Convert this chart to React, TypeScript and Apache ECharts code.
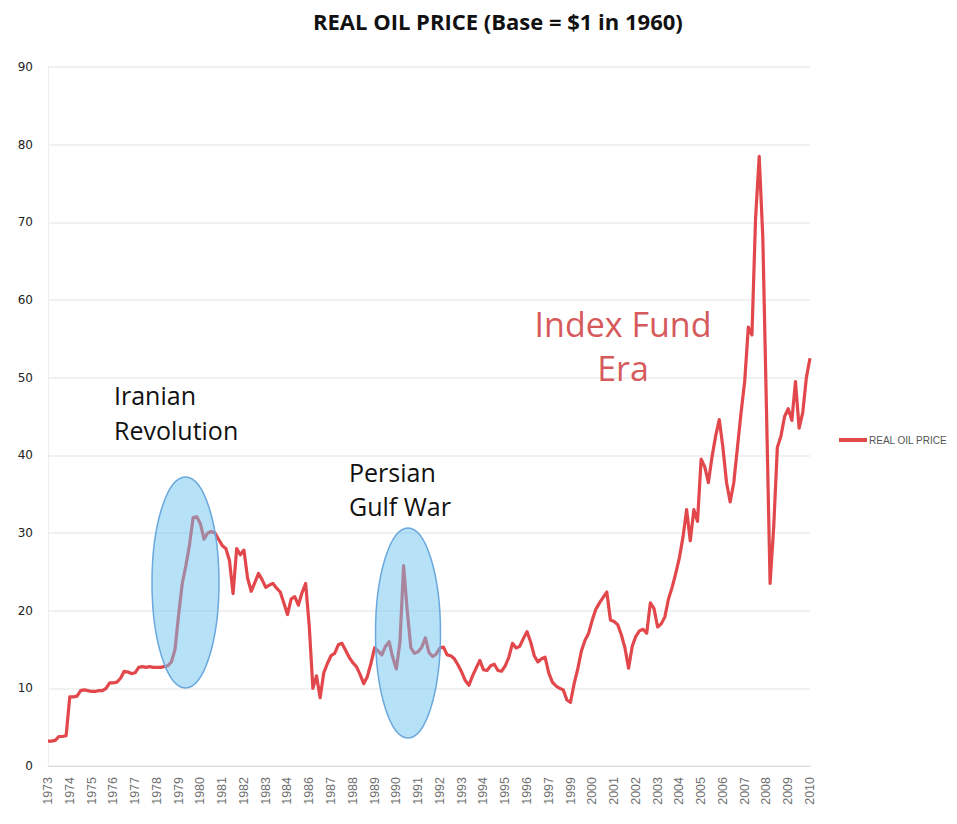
import React, { useEffect, useRef } from "react";
import * as echarts from "echarts";

const TITLE = "REAL OIL PRICE (Base = $1 in 1960)";
const SERIES_NAME = "REAL OIL PRICE";

// Tick labels shown on the x axis (as in the reference, 1985 and 1998 are skipped)
const yearLabels = [
  "1973", "1974", "1975", "1976", "1977", "1978", "1979", "1980", "1981", "1982",
  "1983", "1984", "1986", "1987", "1988", "1989", "1990", "1991", "1992", "1993",
  "1994", "1995", "1996", "1997", "1999", "2000", "2001", "2002", "2003", "2004",
  "2005", "2006", "2007", "2008", "2009", "2010",
];

// Points between consecutive tick labels
const STEPS_PER_LABEL = 6;

// Real oil price readings (6 readings per tick-label interval)
const priceValues = [
  3.2, 3.2, 3.3, 3.8, 3.8, 3.9,
  8.9, 8.9, 9.0, 9.7, 9.8, 9.7,
  9.6, 9.6, 9.7, 9.7, 10.0, 10.7,
  10.7, 10.8, 11.3, 12.2, 12.1, 11.9,
  12.0, 12.7, 12.8, 12.7, 12.8, 12.7,
  12.7, 12.7, 12.8, 12.9, 13.4, 15.0,
  19.5, 23.5, 25.8, 28.5, 32.0, 32.1,
  31.2, 29.2, 30.0, 30.2, 30.0, 29.2,
  28.4, 28.0, 26.5, 22.2, 28.0, 27.2,
  27.8, 24.2, 22.5, 23.6, 24.8, 24.0,
  23.0, 23.3, 23.5, 22.9, 22.4, 21.0,
  19.5, 21.5, 21.8, 20.7, 22.3, 23.5,
  18.0, 10.0, 11.6, 8.8, 12.0, 13.2,
  14.2, 14.5, 15.6, 15.8, 14.9, 14.0,
  13.3, 12.8, 11.8, 10.6, 11.5, 13.2,
  15.2, 14.8, 14.3, 15.4, 16.0, 14.0,
  12.5, 16.0, 25.8, 20.0, 15.2, 14.5,
  14.7, 15.3, 16.5, 14.6, 14.1, 14.4,
  15.2, 15.3, 14.3, 14.2, 13.8, 13.0,
  12.1, 11.0, 10.4, 11.6, 12.6, 13.6,
  12.4, 12.3, 12.9, 13.1, 12.3, 12.2,
  12.9, 14.0, 15.8, 15.2, 15.4, 16.4,
  17.3, 16.0, 14.2, 13.4, 13.8, 14.0,
  12.0, 10.8, 10.3, 10.0, 9.8, 8.5,
  8.2, 10.6, 12.5, 14.8, 16.2, 17.1,
  18.8, 20.2, 21.0, 21.7, 22.4, 18.8,
  18.6, 18.2, 16.9, 15.2, 12.6, 15.4,
  16.7, 17.4, 17.6, 17.1, 21.0, 20.3,
  17.9, 18.3, 19.2, 21.5, 23.0, 24.8,
  26.8, 29.5, 33.0, 29.0, 33.0, 31.5,
  39.5, 38.5, 36.5, 39.8, 42.5, 44.6,
  41.0, 36.5, 34.0, 36.5, 41.0, 45.5,
  49.5, 56.5, 55.5, 70.5, 78.5, 68.0,
  46.0, 23.5, 30.8, 41.0, 42.5, 45.0,
  46.0, 44.5, 49.5, 43.5, 45.5, 50.0,
  52.5,
];

// Y axis ticks
const Y_MIN = 0;
const Y_MAX = 90;
const Y_INTERVAL = 10;

// Annotations
const annoIranian = ["Iranian", "Revolution"];
const annoGulf = ["Persian", "Gulf War"];
const annoIndex = ["Index Fund", "Era"];

function buildCategories(): string[] {
  const cats: string[] = [];
  for (let j = 0; j < yearLabels.length - 1; j++) {
    for (let s = 0; s < STEPS_PER_LABEL; s++) {
      cats.push(s === 0 ? yearLabels[j] : `${yearLabels[j]}-${s}`);
    }
  }
  cats.push(yearLabels[yearLabels.length - 1]);
  return cats;
}

export default function App() {
  const ref = useRef<HTMLDivElement>(null);

  useEffect(() => {
    if (!ref.current) return;
    const chart = echarts.init(ref.current, undefined, { renderer: "svg" });
    const categories = buildCategories();
    const font = "'Open Sans', 'Noto Sans', sans-serif";

    chart.setOption({
      animation: false,
      backgroundColor: "#ffffff",
      title: {
        text: TITLE,
        left: 308,
        top: 5,
        textStyle: {
          fontFamily: font,
          fontWeight: "bold",
          fontSize: 22,
          color: "#111111",
        },
      },
      legend: {
        data: [SERIES_NAME],
        orient: "vertical",
        left: 834,
        top: 430,
        icon: "rect",
        itemWidth: 28,
        itemHeight: 4,
        itemGap: 4,
        textStyle: {
          fontFamily: "'Liberation Sans', sans-serif",
          fontSize: 10,
          color: "#555555",
          padding: [0, 0, 0, -3],
        },
      },
      grid: {
        left: 48,
        right: 147,
        top: 67,
        bottom: 58,
        containLabel: false,
      },
      xAxis: {
        type: "category",
        data: categories,
        boundaryGap: false,
        axisLine: { show: true, lineStyle: { color: "#dddddd", width: 1 } },
        axisTick: { show: false },
        axisLabel: {
          interval: STEPS_PER_LABEL - 1,
          rotate: 90,
          margin: 11,
          fontSize: 12.5,
          color: "#707070",
          fontFamily: "'Liberation Sans', sans-serif",
        },
        splitLine: { show: false },
      },
      yAxis: {
        type: "value",
        min: Y_MIN,
        max: Y_MAX,
        interval: Y_INTERVAL,
        axisLine: { show: true, lineStyle: { color: "#eeeeee" } },
        axisTick: { show: false },
        axisLabel: {
          margin: 15,
          fontSize: 12,
          color: "#222222",
          fontFamily: "'DejaVu Sans', sans-serif",
        },
        splitLine: { show: true, lineStyle: { color: "#ececec", width: 1.5 } },
      },
      series: [
        {
          name: SERIES_NAME,
          type: "line",
          data: priceValues,
          showSymbol: false,
          symbol: "none",
          lineStyle: { color: "#e2474b", width: 3.2, join: "round" },
          itemStyle: { color: "#e2474b" },
          z: 2,
        },
      ],
      graphic: [
        {
          type: "ellipse",
          z: 100,
          shape: { cx: 185.5, cy: 582.5, rx: 33.5, ry: 105.5 },
          style: { fill: "rgba(110,195,240,0.5)", stroke: "#6aa8dd", lineWidth: 1.5 },
        },
        {
          type: "ellipse",
          z: 100,
          shape: { cx: 408, cy: 633, rx: 32.5, ry: 105 },
          style: { fill: "rgba(110,195,240,0.5)", stroke: "#6aa8dd", lineWidth: 1.5 },
        },
        {
          type: "text",
          z: 101,
          x: 114,
          y: 377,
          style: {
            text: annoIranian.join("\n"),
            fontFamily: font,
            fontSize: 25,
            lineHeight: 35,
            fill: "#111111",
            align: "left",
            verticalAlign: "top",
          },
        },
        {
          type: "text",
          z: 101,
          x: 349,
          y: 455,
          style: {
            text: annoGulf.join("\n"),
            fontFamily: font,
            fontSize: 25,
            lineHeight: 34,
            fill: "#111111",
            align: "left",
            verticalAlign: "top",
          },
        },
        {
          type: "text",
          z: 101,
          x: 623,
          y: 302,
          style: {
            text: annoIndex.join("\n"),
            fontFamily: font,
            fontSize: 34,
            lineHeight: 44,
            fill: "#d65a5c",
            align: "center",
            verticalAlign: "top",
          },
        },
      ],
    });

    return () => {
      chart.dispose();
    };
  }, []);

  return (
    <div
      ref={ref}
      style={{ position: "fixed", left: 0, top: 0, width: 957, height: 824 }}
    />
  );
}
